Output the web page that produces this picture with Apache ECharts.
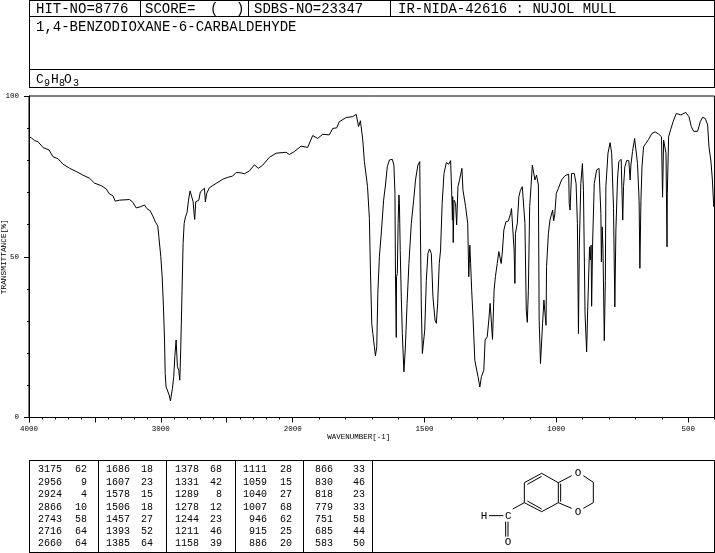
<!DOCTYPE html>
<html>
<head>
<meta charset="utf-8">
<script src="https://cdn.jsdelivr.net/npm/echarts@6/dist/echarts.min.js"></script>
<style>html,body{margin:0;padding:0;background:#fff}#c{width:715px;height:553px}</style>
</head>
<body>
<div id="c"></div>
<script>
var wavenumbers = [
4000,3982,3957,3932,3894,3848,3818,3780,3742,3692,3641,3591,3540,3503,3452,3414,3389,3364,3346,3313,3237,3212,3187,3157,3124,3106,3081,3061,3040,3023,3015,3000,2990,2980,2972,2967,2960,2947,2937,2927,2919,2912,2902,2894,2884,2874,2864,2856,2849,2839,2831,2823,2813,2801,2790,2778,2763,2755,2748,2743,2735,2712,2700,2669,2662,2652,2631,2581,2530,2492,2455,2429,2392,2366,2328,2290,2260,2227,2177,2126,2050,2025,
1994,1968,1943,1924,1905,1886,1861,1848,1833,1823,1797,1772,1759,1750,1743,1738,1734,1728,1721,1716,1711,1709,1705,1700,1696,1690,1686,1681,1677,1671,1663,1655,1648,1641,1633,1622,1616,1612,1610,1607,1606,1603,1600,1597,1595,1592,1588,1584,1578,1573,1566,1559,1550,1541,1534,1525,1518,1516,1512,1508,1505,1499,1493,1487,1481,1474,1468,1460,1455,1450,1444,1439,1433,1426,1417,1408,1401,1397,1394,1393,1391,1388,1382,1378,1373,1367,1358,1354,1344,1336,1332,1328,1325,1321,1316,1309,1303,1297,
1290,1284,1275,1270,1262,1256,1251,1248,1242,1236,1231,1224,1218,1214,1209,1204,1199,1191,1182,1173,1170,1163,1160,1157,1155,1148,1142,1136,1129,1123,1119,1114,1110,1106,1101,1096,1091,1087,1081,1075,1068,1065,1060,1056,1052,1047,1043,1039,1037,1030,1024,1014,1010,1006,1000,992,980,967,953,951,948,945,942,932,925,920,916,914,913,907,901,897,891,885,881,874,871,868,866,862,856,847,838,831,829,826,823,818,814,812,804,796,790,783,778,774,768,763,754,748,745,740,733,725,720,717,711,703,697,692,686,683,679,675,669,660,650,637,624,611,601,597,593,588,584,580,579,574,566,557,545,528,509,497,488,479,464,454,445,435,426,421,414,408,403,400
];
var transmittance = [
87.3,87.0,86.1,85.8,84.0,83.2,81.1,80.5,78.8,77.5,76.5,75.4,74.4,72.9,72.1,71.1,69.5,69.0,67.3,67.6,67.8,66.9,65.2,65.5,66.1,65.0,64.3,62.7,60.7,59.6,56.2,50,43.8,34.4,24.1,13.7,9.5,10.1,7,5.2,5.4,9,12.7,18.9,24.1,15.8,14.7,11.6,21,39.6,54.1,60.4,62.4,63.8,67.6,70.5,71,67.1,63.5,61.6,67.1,67.6,70.2,71.3,67.1,69.7,71.5,72.8,74.1,74.7,75.1,76.2,76.1,75.8,76.7,78.6,77.5,78.5,80.9,82.2,82.5,81.8,
82.7,84.4,84,87.7,86.8,88.1,87.9,89.9,90.1,92,93.3,93.6,94.3,90.5,92.3,92.3,86.3,79.6,75.1,71.8,71.8,61.9,45.9,29.3,26.1,22,19.2,22,38.6,50,58.3,67.6,72.3,78,80.1,80.3,78.5,69.7,44.3,24.9,43.8,44.8,60.4,69.2,66.6,52,37.6,26.1,14.2,21,35.5,47.9,60.4,67.6,73.9,78.5,79.6,62.4,34.4,19.9,19.4,27.2,42.7,51,52.4,51,37.6,30.3,29.3,35.5,47.9,52.1,66.6,75.9,79.3,78.8,79.9,70.7,61.4,68.7,54.4,67.6,66.6,59.9,71.8,73.9,77.5,70.7,65.6,60.4,43.8,53.6,47.9,39.6,31.3,17.8,17.3,12.7,
9.5,12.7,14.7,24.1,25.1,30.3,35.5,35.5,24.3,39.6,43.8,47.9,51.6,51.6,47.9,52.1,58.3,60.9,61.1,63.5,65,65,52.1,41.7,57.3,60.4,68.7,70.7,71.8,72,60.4,33.4,29.6,39.6,65.6,71.8,78.5,78.5,73.9,75.4,72.3,30.3,16.8,16.6,29.3,36.5,36.5,28.7,46.9,57.3,61.4,64.5,61.2,63,69.7,71.3,73.9,75.2,75.7,66.6,64.5,64,75.9,75.9,72.8,60.4,26.1,26.1,52.1,72.8,79,70.7,32.4,20.4,33.4,53.1,49,53.6,34.6,55.2,72.8,77,77.5,63.5,48.4,59.3,52.6,23.9,42.7,71.8,82.2,85.5,82.2,65,34.4,58.3,73.9,79.6,80.3,61.4,71.8,78,79.9,79.9,73.9,78.5,82.7,86.8,87.1,79,67.6,46.4,67.6,78,84.2,85.3,86.5,88.4,88.8,88.1,87.3,68.5,86.3,86.8,82.2,53.1,69.7,87.3,89.6,92,94.6,94.1,94.9,93.6,90.5,89,89,92,93.4,93,91,84.2,80.1,73.9,65.6,66
];
var majorWavenumbers = [4000,3500,3000,2500,2000,1500,1000,500];
var minorWavenumbers = [3900,3800,3700,3600,3400,3300,3200,3100,2900,2800,2700,2600,2400,2300,2200,2100,1900,1800,1700,1600,1400,1300,1200,1100,900,800,700,600,400];
var xTickLabels = {4000:'4000',3000:'3000',2000:'2000',1500:'1500',1000:'1000',500:'500'};
var yMajorTicks = [0,50,100];
var yMinorTicks = [10,20,30,40,60,70,80,90];
var peakColumns = [
  [['3175','62'],['2956','9'],['2924','4'],['2866','10'],['2743','58'],['2716','64'],['2660','64']],
  [['1686','18'],['1607','23'],['1578','15'],['1506','18'],['1457','27'],['1393','52'],['1385','64']],
  [['1378','68'],['1331','42'],['1289','8'],['1278','12'],['1244','23'],['1211','46'],['1158','39']],
  [['1111','28'],['1059','15'],['1040','27'],['1007','68'],['946','62'],['915','25'],['886','20']],
  [['866','33'],['830','46'],['818','23'],['779','33'],['751','58'],['685','44'],['583','50']]
];
var hitText = 'HIT-NO=8776', scoreText = 'SCORE=', sdbsText = 'SDBS-NO=23347',
    irText = 'IR-NIDA-42616 : NUJOL MULL', nameText = '1,4-BENZODIOXANE-6-CARBALDEHYDE';

// the spectrum's abscissa changes scale at 2000 cm-1
function pos(w){ return w >= 2000 ? (4000 - w) / 2 : 1000 + (2000 - w); }
function unpos(p){ return p <= 1000 ? 4000 - p * 2 : 2000 - (p - 1000); }

var spectrum = wavenumbers.map(function(w,i){ return [pos(w), transmittance[i]]; });
var mono = '"Liberation Mono"';

function hl(x1,x2,y){ return {type:'rect',shape:{x:x1,y:y,width:x2-x1+1,height:1},style:{fill:'#000'},silent:true}; }
function vl(x,y1,y2){ return {type:'rect',shape:{x:x,y:y1,width:1,height:y2-y1+1},style:{fill:'#000'},silent:true}; }
function txt(s,x,y,size,align){ return {type:'text',x:x,y:y,silent:true,style:{text:s,fill:'#000',font:size+'px '+mono,align:align||'left',verticalAlign:'middle'}}; }

var g = [];
// header frame
g.push(hl(29,714,0),hl(29,714,16),hl(29,714,69),hl(29,714,87),vl(29,0,87),vl(714,0,87),vl(140,0,16),vl(248,0,16),vl(390,0,16));
g.push(txt(hitText,36,9,14),txt(scoreText,145,9,14),txt('(',210,9,14),txt(')',236,9,14),txt(sdbsText,254,9,14),txt(irText,398,9,14),txt(nameText,36,27,14));
// formula
g.push(txt('C',36,80,13),txt('9',44,83,10),txt('H',51,80,13),txt('8',59,83,10),txt('O',64,80,13),txt('3',73,83,10));
// peak table frame
g.push(hl(29,714,460),hl(29,714,552),vl(29,460,552),vl(714,460,552),vl(98,460,552),vl(166,460,552),vl(235,460,552),vl(303,460,552),vl(372,460,552));
var numRight = [62,130,199,267,333], valRight = [87,153,222,292,365];
var rowY = [469,482,494,507,519,531,543];
peakColumns.forEach(function(col,c){
  col.forEach(function(r,i){
    g.push(txt(r[0],numRight[c],rowY[i],10,'right'),txt(r[1],valRight[c],rowY[i],10,'right'));
  });
});
// molecular structure, sketched in a 3x local frame
var bonds = [[463,83,515,55],[515,55,565,83],[565,83,565,143],[565,143,515,170],[515,170,463,143],[463,143,463,83],
  [472,88,515,64],[572,86,572,140],[472,138,515,162],
  [565,83,605,62],[640,62,670,82],[670,82,670,143],[670,143,640,160],[605,160,565,143],
  [463,143,428,162],[357,182,400,182],[407,200,407,245],[414,200,414,245]];
var mol = bonds.map(function(b){ return {type:'line',silent:true,shape:{x1:b[0],y1:b[1],x2:b[2],y2:b[3]},style:{stroke:'#000',lineWidth:3,fill:null}}; });
[['O',624,53],['O',624,172],['C',415,182],['H',342,182],['O',414,262]].forEach(function(a){
  mol.push({type:'text',x:a[1],y:a[2],silent:true,style:{text:a[0],fill:'#000',font:'33px '+mono,align:'center',verticalAlign:'middle'}});
});
g.push({type:'group',x:370,y:455,scaleX:1/3,scaleY:1/3,silent:true,children:mol});

var chart = echarts.init(document.getElementById('c'),null,{renderer:'canvas'});
chart.setOption({
  animation:false,
  backgroundColor:'#fff',
  grid:{left:29,right:0.5,top:96,bottom:135.5,show:true,borderColor:'#000',borderWidth:1,backgroundColor:'transparent',outerBoundsMode:'none',containLabel:false},
  xAxis:[{
    type:'value',min:pos(4000),max:pos(400),position:'bottom',
    name:'WAVENUMBER[-1]',nameLocation:'middle',nameGap:16,nameMoveOverlap:false,
    nameTextStyle:{color:'#000',fontFamily:mono,fontSize:7.5,padding:[0,26,0,0]},
    splitLine:{show:false},
    axisLine:{show:true,onZero:false,lineStyle:{color:'#000',width:1}},
    axisTick:{show:true,length:5,inside:false,lineStyle:{color:'#000',width:1},customValues:majorWavenumbers.map(pos)},
    axisLabel:{show:true,margin:8,color:'#000',fontFamily:mono,fontSize:7.5,
      customValues:Object.keys(xTickLabels).map(function(k){return pos(+k);}),
      formatter:function(v){ return xTickLabels[Math.round(unpos(v))]||''; }}
  },{
    type:'value',min:pos(4000),max:pos(400),position:'bottom',
    splitLine:{show:false},axisLine:{show:false,onZero:false},
    axisTick:{show:true,length:2,lineStyle:{color:'#000',width:1},customValues:minorWavenumbers.map(pos)},
    axisLabel:{show:false}
  }],
  yAxis:[{
    type:'value',min:0,max:100,position:'left',
    name:'TRANSMITTANCE[%]',nameLocation:'middle',nameRotate:90,nameGap:21,nameMoveOverlap:false,
    nameTextStyle:{color:'#000',fontFamily:mono,fontSize:7.8},
    splitLine:{show:false},
    axisLine:{show:true,onZero:false,lineStyle:{color:'#000',width:1}},
    axisTick:{show:true,length:5,lineStyle:{color:'#000',width:1},customValues:yMajorTicks},
    axisLabel:{show:true,margin:10,color:'#000',fontFamily:mono,fontSize:7.5,customValues:yMajorTicks}
  },{
    type:'value',min:0,max:100,position:'left',
    splitLine:{show:false},axisLine:{show:false,onZero:false},
    axisTick:{show:true,length:2,lineStyle:{color:'#000',width:1},customValues:yMinorTicks},
    axisLabel:{show:false}
  }],
  series:[{type:'line',data:spectrum,showSymbol:false,symbol:'none',smooth:false,clip:true,sampling:false,
    lineStyle:{color:'#000',width:1},silent:true,xAxisIndex:0,yAxisIndex:0}],
  graphic:{elements:g}
});
</script>
</body>
</html>
